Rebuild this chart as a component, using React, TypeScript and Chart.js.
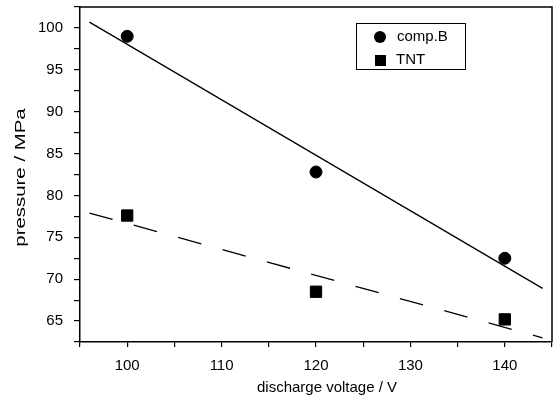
import React, { useEffect, useRef } from "react";
import { Chart, registerables } from "chart.js";

Chart.register(...registerables);

const voltages = [100, 120, 140];
const compB = [99.0, 82.8, 72.5];
const tnt = [77.6, 68.5, 65.2];
const fitX = [96, 144];
const compBFit = [100.7, 68.9];
const tntFit = [77.9, 63.0];
const xMajorTicks = [100, 110, 120, 130, 140];
const yMajorTicks = [65, 70, 75, 80, 85, 90, 95, 100];
const xTitle = "discharge voltage / V";
const yTitle = "pressure / MPa";

const FONT = "'Liberation Sans', Arial, sans-serif";

const framePlugin = {
  id: "frame",
  afterDraw(chart: any) {
    const { ctx, chartArea } = chart;
    ctx.save();
    ctx.strokeStyle = "#000";
    ctx.lineWidth = 1.5;
    ctx.beginPath();
    ctx.moveTo(chartArea.left, chartArea.top);
    ctx.lineTo(chartArea.right, chartArea.top);
    ctx.lineTo(chartArea.right, chartArea.bottom);
    ctx.stroke();
    // legend
    const bx = 356, by = 23, bw = 109, bh = 46;
    ctx.fillStyle = "#fff";
    ctx.fillRect(bx, by, bw, bh);
    ctx.lineWidth = 1;
    ctx.strokeRect(bx + 0.5, by + 0.5, bw, bh);
    ctx.fillStyle = "#000";
    ctx.beginPath();
    ctx.arc(380, 37, 6, 0, Math.PI * 2);
    ctx.fill();
    ctx.fillRect(375, 55, 11, 11);
    ctx.font = `15px ${FONT}`;
    ctx.textBaseline = "middle";
    ctx.textAlign = "left";
    ctx.fillText(chart.data.datasets[0].label, 397, 37);
    ctx.fillText(chart.data.datasets[1].label, 396, 60);
    // axis titles
    ctx.textAlign = "center";
    ctx.fillText(xTitle, 327, 388);
    ctx.save();
    ctx.translate(21, 177.5);
    ctx.rotate(-Math.PI / 2);
    ctx.scale(1.36, 1);
    ctx.fillText(yTitle, 0, 0);
    ctx.restore();
    ctx.restore();
  },
};

export default function App() {
  const ref = useRef<HTMLCanvasElement>(null);
  useEffect(() => {
    const chart = new Chart(ref.current!, {
      type: "scatter",
      data: {
        datasets: [
          {
            label: "comp.B",
            data: voltages.map((v, i) => ({ x: v, y: compB[i] })),
            pointStyle: "circle",
            pointRadius: 6,
            backgroundColor: "#000",
            borderColor: "#000",
          },
          {
            label: "TNT",
            data: voltages.map((v, i) => ({ x: v, y: tnt[i] })),
            pointStyle: "rect",
            pointRadius: 8,
            backgroundColor: "#000",
            borderColor: "#000",
          },
          {
            label: "fitB",
            type: "line",
            data: fitX.map((v, i) => ({ x: v, y: compBFit[i] })),
            pointRadius: 0,
            borderColor: "#000",
            borderWidth: 1.3,
            showLine: true,
          } as any,
          {
            label: "fitTNT",
            type: "line",
            data: fitX.map((v, i) => ({ x: v, y: tntFit[i] })),
            pointRadius: 0,
            borderColor: "#000",
            borderWidth: 1.3,
            borderDash: [24, 22],
            showLine: true,
          } as any,
        ],
      },
      options: {
        animation: false,
        responsive: false,
        layout: { autoPadding: false, padding: { top: 7, right: 3, left: 0, bottom: 0 } },
        plugins: { legend: { display: false }, tooltip: { enabled: false } },
        scales: {
          x: {
            type: "linear",
            min: 95,
            max: 145,
            afterFit: (s: any) => { s.height = 59; s.paddingLeft = 0; s.paddingRight = 0; },
            border: { color: "#000", width: 1.5 },
            grid: { drawOnChartArea: false, drawTicks: true, tickLength: 5, color: "#000", lineWidth: 1.2 },
            ticks: {
              stepSize: 5,
              color: "#000",
              padding: 10,
              maxRotation: 0,
              autoSkip: false,
              font: { family: FONT, size: 15 },
              callback: (v: any) => (xMajorTicks.includes(Number(v)) ? String(v) : ""),
            },
            title: { display: false },
          },
          y: {
            type: "linear",
            min: 62.5,
            max: 102.5,
            afterFit: (s: any) => { s.width = 80; s.paddingTop = 0; s.paddingBottom = 0; },
            border: { color: "#000", width: 1.5 },
            grid: { drawOnChartArea: false, drawTicks: true, tickLength: 6, color: "#000", lineWidth: 1.2 },
            ticks: {
              stepSize: 2.5,
              color: "#000",
              padding: 11,
              autoSkip: false,
              font: { family: FONT, size: 15 },
              callback: (v: any) => (yMajorTicks.includes(Number(v)) ? String(v) : ""),
            },
            title: { display: false },
          },
        },
      },
      plugins: [framePlugin],
    });
    return () => chart.destroy();
  }, []);
  return (
    <div style={{ position: "absolute", left: 0, top: 0, width: 555, height: 401, background: "#fff" }}>
      <canvas ref={ref} width={555} height={401} />
    </div>
  );
}
